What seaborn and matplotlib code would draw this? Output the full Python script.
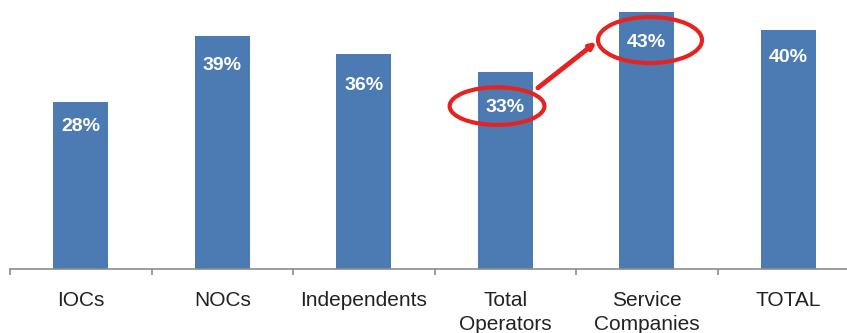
import matplotlib
matplotlib.use("Agg")
import matplotlib.pyplot as plt
from matplotlib.patches import Ellipse
import seaborn as sns
import pandas as pd

categories = ["IOCs", "NOCs", "Independents", "Total\nOperators", "Service\nCompanies", "TOTAL"]
values = [28, 39, 36, 33, 43, 40]
labels = ["28%", "39%", "36%", "33%", "43%", "40%"]

BAR = "#4C7BB4"
RED = "#E52421"

sns.set_theme(style="white")
plt.rcParams['font.family'] = ['Liberation Sans', 'DejaVu Sans']

df = pd.DataFrame({"cat": categories, "val": values})

fig = plt.figure(figsize=(8.47, 3.33), dpi=100)
ax = fig.add_axes([10 / 847, 64 / 333, 849 / 847, 269 / 333])
sns.barplot(data=df, x="cat", y="val", color=BAR, saturation=1, width=0.39,
            linewidth=0, ax=ax)

ax.set_ylim(0, 45)
ax.set_xlim(-0.5, len(categories) - 0.5)
ax.set_xlabel("")
ax.set_ylabel("")
ax.set_yticks([])
for s in ["top", "right", "left"]:
    ax.spines[s].set_visible(False)
ax.spines["bottom"].set_color("#8c8c8c")
ax.spines["bottom"].set_linewidth(1.2)

# boundary tick marks, labels at centres
ax.set_xticks([i - 0.5 for i in range(len(categories) + 1)])
ax.set_xticklabels([""] * (len(categories) + 1))
ax.tick_params(axis="x", which="major", direction="out", length=4, width=1.2,
               color="#8c8c8c", bottom=True)
ax.set_xticks(range(len(categories)), minor=True)
ax.set_xticklabels(categories, minor=True, fontsize=15, color="#222222",
                   linespacing=1.3)
ax.tick_params(axis="x", which="minor", length=0, pad=16)

# value labels inside bars
label_offsets_px = [25, 30, 32, 36, 31, 28]
for i, (v, t) in enumerate(zip(values, labels)):
    ax.annotate(t, (i, v), xytext=(0, -label_offsets_px[i] * 0.72),
                textcoords="offset points", ha="center", va="center",
                color="white", fontsize=14, fontweight="bold")

# highlight ellipses
i1, i2 = 3, 4
e1 = Ellipse((i1 - 0.058, values[i1] - 5.75), 0.67, 6.3, fill=False,
             edgecolor=RED, lw=3, clip_on=False, zorder=5)
e2 = Ellipse((i2 + 0.023, values[i2] - 4.7), 0.735, 7.7, fill=False,
             edgecolor=RED, lw=3, clip_on=False, zorder=5)
ax.add_patch(e1)
ax.add_patch(e2)

ax.annotate("", xy=(i1 + 0.645, values[i1] + 5.0), xytext=(i1 + 0.231, values[i1] - 2.7),
            arrowprops=dict(arrowstyle="-|>", color=RED, lw=3.5, mutation_scale=8,
                            shrinkA=0, shrinkB=0),
            zorder=6, annotation_clip=False)

fig.savefig("out.png", dpi=100)
